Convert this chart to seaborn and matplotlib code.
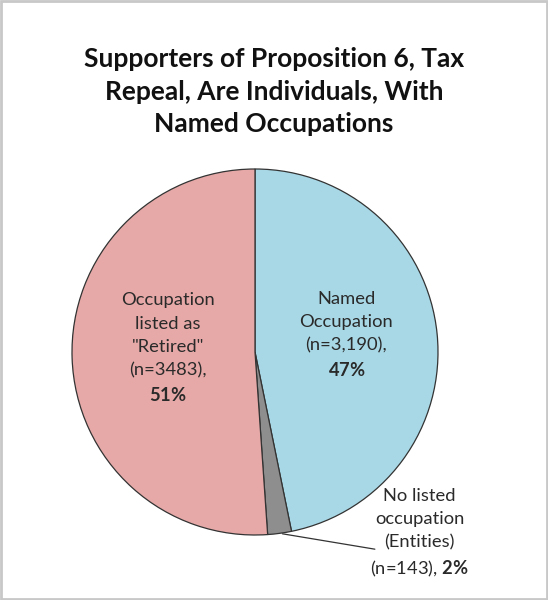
import numpy as np
import matplotlib
matplotlib.use("Agg")
import matplotlib.pyplot as plt
import seaborn as sns
from matplotlib.patches import Rectangle

sns.set_theme(style="white")
plt.rcParams['font.family'] = ['Lato', 'DejaVu Sans']
plt.rcParams['mathtext.fontset'] = 'custom'
plt.rcParams['mathtext.rm'] = 'Lato'
plt.rcParams['mathtext.bf'] = 'Lato:bold'

categories = ["Named Occupation", "No listed occupation (Entities)", "Occupation listed as \"Retired\""]
counts = [3190, 143, 3483]
percents = ["47%", "2%", "51%"]
colors = ["#A8D8E6", "#8E8E8E", "#E6A9A7"]
title = "Supporters of Proposition 6, Tax\nRepeal, Are Individuals, With\nNamed Occupations"

fig = plt.figure(figsize=(5.48, 6.0), dpi=100)
fig.patch.set_facecolor("white")
fig.patches.append(Rectangle((0.002, 0.002), 0.996, 0.996, transform=fig.transFigure,
                             fill=False, edgecolor="#C8C8C8", linewidth=2.0))

ax = fig.add_axes([72/548, 65/600, 366/548, 366/600])
wedges, _ = ax.pie(counts, colors=colors, startangle=90, counterclock=False, radius=1.0,
                   wedgeprops=dict(edgecolor="#333333", linewidth=0.9))
ax.set_xlim(-1, 1)
ax.set_ylim(-1, 1)
ax.set_aspect('equal')
ax.axis('off')

fs = 13.2
ls = 1.55
tc = "#2a2a2a"

def bold(p):
    return r"$\mathbf{" + p.replace('%', r'\%') + "}$"

# Named occupation label
ax.text(0.50, 0.093, "Named\nOccupation\n(n={:,}),\n".format(counts[0]) + bold(percents[0]),
        ha='center', va='center', fontsize=fs, color=tc, linespacing=ls)
# Retired label
ax.text(-0.475, 0.02, "Occupation\nlisted as\n\"Retired\"\n(n={}),\n".format(counts[2]) + bold(percents[2]),
        ha='center', va='center', fontsize=fs, color=tc, linespacing=ls)

# No listed occupation label with leader line
theta = np.deg2rad((wedges[1].theta1 + wedges[1].theta2) / 2)
px, py = np.cos(theta) * 1.0, np.sin(theta) * 1.0
ax.annotate("", xy=(px, py), xytext=(0.67, -1.08), annotation_clip=False,
            arrowprops=dict(arrowstyle='-', color="#333333", lw=0.9))
ax.text(0.9, -0.99, "No listed\noccupation\n(Entities)\n(n={}), ".format(counts[1]) + bold(percents[1]),
        ha='center', va='center', fontsize=fs, color=tc, linespacing=ls, clip_on=False)

fig.text(0.5, 0.847, title, ha='center', va='center', fontsize=19, fontweight='bold',
         color="#111111", linespacing=1.42)

fig.savefig("out.png", dpi=100, facecolor="white")
